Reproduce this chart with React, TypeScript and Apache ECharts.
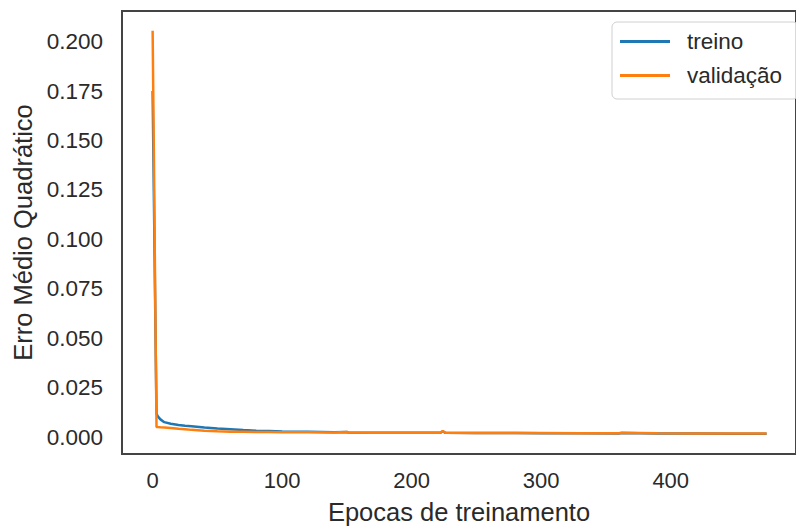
import React, { useEffect, useRef } from "react";
import * as echarts from "echarts";

const epochs = [0, 1, 2, 3, 4, 6, 9, 14, 20, 25, 30, 40, 50, 60, 70, 80, 90, 100, 120, 140, 150, 151, 170, 190, 210, 222, 224, 226, 250, 280, 300, 330, 360, 362, 390, 420, 450, 474];
const treino = [0.175, 0.12, 0.065, 0.0118, 0.0105, 0.009, 0.0076, 0.0068, 0.0062, 0.0058, 0.0055, 0.0049, 0.0044, 0.004, 0.0036, 0.0033, 0.0031, 0.0029, 0.0027, 0.0025, 0.0026, 0.0024, 0.0023, 0.0023, 0.0022, 0.0022, 0.003, 0.0022, 0.0021, 0.0021, 0.002, 0.002, 0.0019, 0.0021, 0.0019, 0.0019, 0.0018, 0.0018];
const validacao = [0.2055, 0.14, 0.07, 0.0052, 0.0051, 0.005, 0.0049, 0.0047, 0.0043, 0.004, 0.0037, 0.0033, 0.003, 0.0028, 0.0027, 0.0026, 0.0026, 0.0025, 0.0025, 0.0024, 0.0026, 0.0024, 0.0023, 0.0023, 0.0022, 0.0022, 0.0031, 0.0022, 0.0021, 0.0021, 0.0021, 0.002, 0.002, 0.0022, 0.002, 0.0019, 0.0019, 0.0019];
const xTicks = [0, 100, 200, 300, 400];
const yTicks = [0, 0.025, 0.05, 0.075, 0.1, 0.125, 0.15, 0.175, 0.2];
const seriesNames = ["treino", "validação"];

const FONT = "Liberation Sans, Arial, sans-serif";
const TXT = "#2a2a2a";

export default function App() {
  const ref = useRef<HTMLDivElement>(null);
  useEffect(() => {
    if (!ref.current) return;
    const chart = echarts.init(ref.current, undefined, { renderer: "svg" });
    chart.setOption({
      animation: false,
      backgroundColor: "#ffffff",
      textStyle: { fontFamily: FONT },
      grid: {
        left: 122,
        top: 11,
        width: 684,
        height: 444,
        show: true,
        borderColor: "#444444",
        borderWidth: 2,
        backgroundColor: "#ffffff",
        containLabel: false,
      },
      legend: {
        orient: "vertical",
        left: 612,
        top: 22,
        padding: [8, 16, 12, 8],
        itemWidth: 50,
        itemHeight: 3,
        itemGap: 11,
        icon: "rect",
        borderColor: "#d0d0d0",
        borderWidth: 1,
        borderRadius: 5,
        backgroundColor: "rgba(255,255,255,0.8)",
        textStyle: { fontSize: 22.5, color: TXT, fontFamily: FONT, lineHeight: 22, padding: [0, 0, 0, 12] },
        data: seriesNames,
      },
      xAxis: {
        type: "value",
        min: -23.65,
        max: 496.7,
        name: "Epocas de treinamento",
        nameLocation: "middle",
        nameGap: 45,
        nameTextStyle: { fontSize: 25.5, color: TXT, fontFamily: FONT },
        axisLine: { show: false },
        axisTick: { show: false },
        splitLine: { show: false },
        axisLabel: {
          customValues: xTicks,
          fontSize: 22,
          color: TXT,
          fontFamily: FONT,
          margin: 15,
        },
      },
      yAxis: {
        type: "value",
        min: -0.0085,
        max: 0.2155,
        name: "Erro Médio Quadrático",
        nameLocation: "middle",
        nameGap: 86,
        nameTextStyle: { fontSize: 25.5, color: TXT, fontFamily: FONT },
        axisLine: { show: false },
        axisTick: { show: false },
        splitLine: { show: false },
        axisLabel: {
          customValues: yTicks,
          fontSize: 22.5,
          color: TXT,
          fontFamily: FONT,
          margin: 19,
          formatter: (v: number) => v.toFixed(3),
        },
      },
      series: [
        {
          name: seriesNames[0],
          type: "line",
          data: epochs.map((e, i) => [e, treino[i]]),
          symbol: "none",
          lineStyle: { color: "#1f77b4", width: 2.5 },
          itemStyle: { color: "#1f77b4" },
        },
        {
          name: seriesNames[1],
          type: "line",
          data: epochs.map((e, i) => [e, validacao[i]]),
          symbol: "none",
          lineStyle: { color: "#ff7f0e", width: 2.5 },
          itemStyle: { color: "#ff7f0e" },
        },
      ],
    });
    return () => chart.dispose();
  }, []);
  return <div ref={ref} style={{ position: "absolute", left: 0, top: 0, width: 796, height: 530 }} />;
}
